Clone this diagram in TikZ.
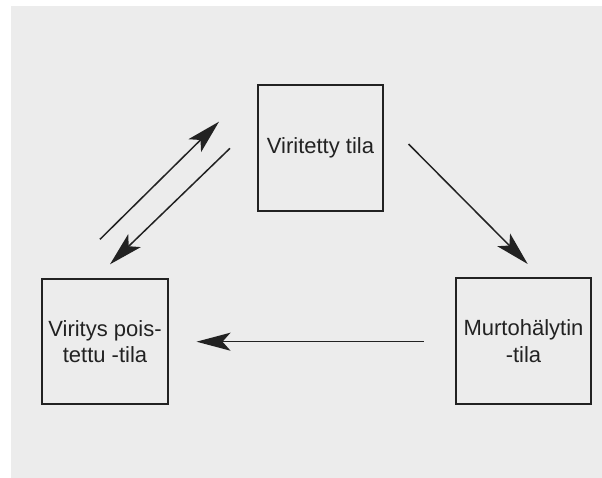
\documentclass[tikz,border=0pt]{standalone}
\usepackage{fontspec}
\setmainfont{Liberation Sans}
\usetikzlibrary{arrows.meta}
\definecolor{bggray}{HTML}{ECECEC}
\definecolor{ink}{HTML}{222222}
\begin{document}
\begin{tikzpicture}[x=1pt,y=-1pt,
  statebox/.style={draw=ink, line width=1.5pt, fill=none, text=ink, align=center, inner sep=0pt,
    font=\fontsize{22}{26.5}\selectfont},
  arr/.style={draw=ink, line width=1.5pt, -{Stealth[length=34pt,width=18pt,inset=8pt]}}]
\useasboundingbox (0,0) rectangle (602,478);
\fill[bggray] (11,6) rectangle (602,478);
\node[statebox, minimum width=125pt, minimum height=126pt] (top) at (320.5,148) {Viritetty tila};
\node[statebox, minimum width=126pt, minimum height=125pt] (left) at (105,341.5) {Viritys pois-\\tettu -tila};
\node[statebox, minimum width=135pt, minimum height=126pt] (right) at (523.5,341) {Murtohälytin\\-tila};
\coordinate (upT) at (100,239.3);
\coordinate (upH) at (219,121.7);
\coordinate (dnT) at (230,148.3);
\coordinate (dnH) at (110,264.3);
\coordinate (rtT) at (408.5,144);
\coordinate (rtH) at (527.7,264);
\coordinate (hzT) at (423.5,341.7);
\coordinate (hzH) at (196.5,341.7);
\draw[arr] (upT) -- (upH);
\draw[arr] (dnT) -- (dnH);
\draw[arr] (rtT) -- (rtH);
\draw[arr] (hzT) -- (hzH);
\end{tikzpicture}
\end{document}
